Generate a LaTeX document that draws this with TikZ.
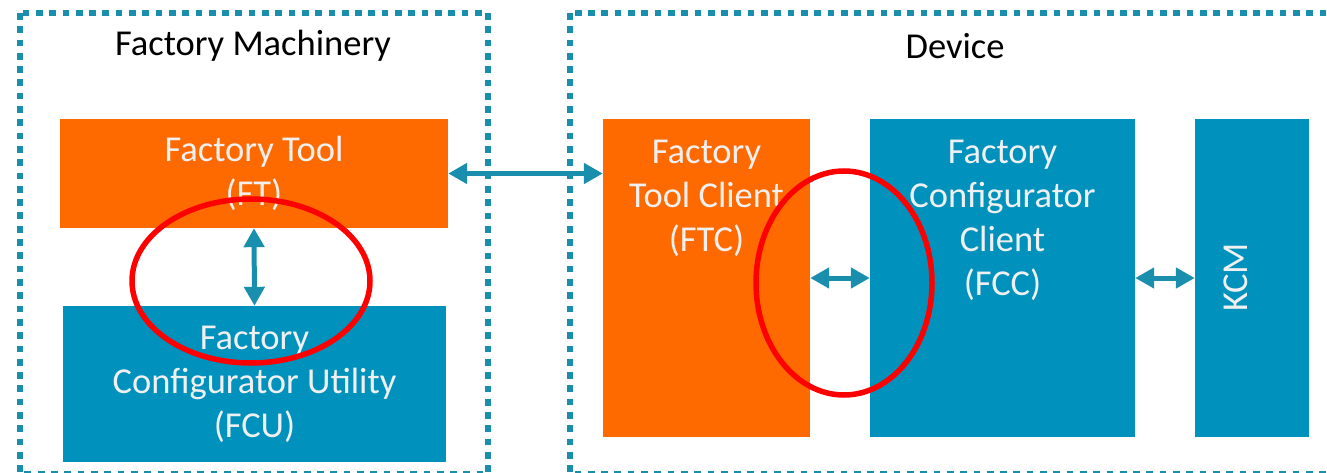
\documentclass[tikz,border=0pt]{standalone}
\usepackage{fontspec}
\setmainfont{Carlito}
\usetikzlibrary{positioning}
\usetikzlibrary{arrows.meta}

\definecolor{ftorange}{RGB}{255,106,0}
\definecolor{fcblue}{RGB}{0,146,188}
\definecolor{teal}{RGB}{26,143,173}
\definecolor{ringred}{RGB}{255,0,0}

\begin{document}
\begin{tikzpicture}[x=1pt,y=-1pt,
    every node/.style={font=\fontsize{36.5}{44}\selectfont},
    orangebox/.style={fill=ftorange,draw=none},
    bluebox/.style={fill=fcblue,draw=none},
    boxtext/.style={align=center,text=white!94!black,inner sep=0pt},
    dotframe/.style={draw=teal,line width=6.7pt,dash pattern=on 6.7pt off 6.6pt},
    link/.style={draw=teal,line width=5pt,
      {Triangle[length=19pt,width=20pt]}-{Triangle[length=19pt,width=20pt]}},
    ring/.style={draw=ringred,line width=5.5pt}]
  \useasboundingbox (0,0) rectangle (1327,473);

  % dotted frames
  \draw[dotframe] (20,13) rectangle (488,474);
  \draw[dotframe] (570,13) rectangle (1345,474);

  \node at (253,46) (machinery) {Factory Machinery};
  \node at (955,46) (device) {Device};

  \node at (254,173.5) [orangebox,minimum height=109pt,minimum width=388pt] (FT) {};
  \node at (254.5,384) [bluebox,minimum height=156pt,minimum width=383pt] (FCU) {};
  \node at (706.5,278) [orangebox,minimum height=318pt,minimum width=207pt] (FTC) {};
  \node at (1002.5,278) [bluebox,minimum height=318pt,minimum width=265pt] (FCC) {};
  \node at (1252,278) [bluebox,minimum height=318pt,minimum width=114pt] (KCM) {};

  \node at (FT) [boxtext] (FT text) {
    Factory Tool\\(FT)
  };
  \node at (FCU) [boxtext] (FCU text) {
    Factory\\Configurator Utility\\(FCU)
  };
  \node [boxtext,below=21pt of FTC.north] (FTC text) {
    Factory\\Tool Client\\(FTC)
  };
  \node [boxtext,below=21pt of FCC.north] (FCC text) {
    Factory\\Configurator\\Client\\(FCC)
  };
  \node at (1236,277) [boxtext,rotate=90] (KCM text) {KCM};

  \draw[link] (FT.east) -- (FT.east -| FTC.west);
  \draw[link] (FT.south) -- (FCU.north);
  \draw[link] (FTC.east) -- (FCC.west);
  \draw[link] (FCC.east) -- (KCM.west);

  % highlighted interfaces
  \draw[ring] (251,281) ellipse [x radius=119pt, y radius=82pt];
  \draw[ring] (844,283) ellipse [x radius=88pt, y radius=112pt];
\end{tikzpicture}
\end{document}
